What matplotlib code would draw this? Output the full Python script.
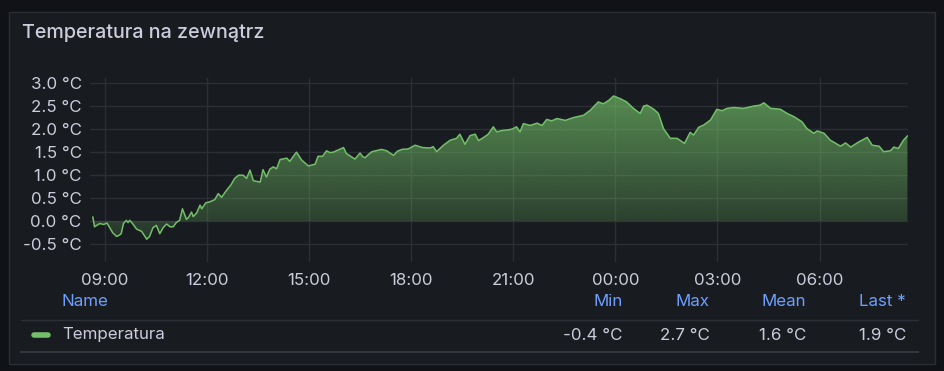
import matplotlib
matplotlib.use("Agg")
import matplotlib.pyplot as plt
import matplotlib.dates as mdates
from matplotlib.patches import Rectangle
from matplotlib.lines import Line2D
from matplotlib.ticker import FuncFormatter
import numpy as np
from datetime import datetime, timedelta

title = "Temperatura na zewnątrz"
series_name = "Temperatura"

times = [
  "08:39", "08:42", "08:47", "08:51", "08:58", "09:04", "09:14", "09:21", "09:26", "09:29",
  "09:33", "09:38", "09:41", "09:44", "09:49", "09:56", "10:05", "10:14", "10:19", "10:25",
  "10:31", "10:37", "10:43", "10:49", "10:55", "11:01", "11:06", "11:12", "11:17", "11:24",
  "11:28", "11:33", "11:36", "11:42", "11:48", "11:51", "11:58", "12:05", "12:14", "12:20",
  "12:26", "12:34", "12:43", "12:49", "12:56", "13:04", "13:10", "13:16", "13:22", "13:34",
  "13:39", "13:45", "13:51", "13:57", "14:03", "14:09", "14:21", "14:26", "14:38", "14:47",
  "14:59", "15:11", "15:16", "15:24", "15:31", "15:37", "15:43", "16:01", "16:06", "16:21",
  "16:30", "16:35", "16:39", "16:45", "16:51", "17:08", "17:17", "17:29", "17:36", "17:44",
  "17:55", "18:07", "18:20", "18:34", "18:39", "18:45", "18:57", "19:09", "19:20", "19:26",
  "19:35", "19:44", "19:53", "19:59", "20:08", "20:16", "20:25", "20:31", "20:40", "20:49",
  "20:58", "21:06", "21:12", "21:18", "21:30", "21:42", "21:51", "21:59", "22:08", "22:17",
  "22:32", "22:46", "23:04", "23:16", "23:30", "23:39", "23:48", "23:57", "00:09", "00:20",
  "00:32", "00:44", "00:50", "00:56", "01:08", "01:16", "01:25", "01:37", "01:49", "02:02",
  "02:12", "02:18", "02:27", "02:36", "02:48", "02:59", "03:08", "03:17", "03:29", "03:46",
  "04:04", "04:15", "04:22", "04:34", "04:45", "04:51", "05:03", "05:15", "05:29", "05:38",
  "05:50", "05:56", "06:08", "06:19", "06:37", "06:46", "06:55", "07:09", "07:24", "07:33",
  "07:45", "07:53", "08:05", "08:11", "08:19", "08:28", "08:35",
]
temps = [
  0.09, -0.12, -0.08, -0.05, -0.07, -0.04, -0.25, -0.33, -0.30, -0.27,
  -0.05, 0.02, -0.03, 0.02, -0.05, -0.17, -0.22, -0.39, -0.33, -0.14,
  -0.09, -0.27, -0.14, -0.06, -0.12, -0.12, -0.03, 0.02, 0.27, 0.04,
  0.09, 0.20, 0.10, 0.18, 0.35, 0.27, 0.40, 0.42, 0.47, 0.60,
  0.52, 0.66, 0.80, 0.93, 1.00, 1.00, 0.93, 1.11, 0.88, 0.85,
  1.12, 0.96, 1.13, 1.18, 1.14, 1.34, 1.37, 1.30, 1.50, 1.33,
  1.20, 1.24, 1.41, 1.41, 1.53, 1.49, 1.50, 1.60, 1.47, 1.35,
  1.48, 1.40, 1.38, 1.45, 1.51, 1.56, 1.53, 1.43, 1.52, 1.56,
  1.57, 1.65, 1.60, 1.59, 1.62, 1.51, 1.65, 1.76, 1.80, 1.89,
  1.67, 1.86, 1.89, 1.75, 1.82, 1.89, 2.05, 1.94, 1.97, 1.98,
  2.00, 2.05, 1.94, 2.12, 2.08, 2.13, 2.08, 2.21, 2.18, 2.23,
  2.19, 2.25, 2.30, 2.41, 2.59, 2.55, 2.62, 2.72, 2.66, 2.59,
  2.45, 2.34, 2.50, 2.52, 2.43, 2.34, 2.01, 1.80, 1.80, 1.69,
  1.93, 1.87, 2.04, 2.09, 2.20, 2.43, 2.40, 2.45, 2.47, 2.45,
  2.50, 2.52, 2.57, 2.45, 2.44, 2.43, 2.34, 2.27, 2.16, 2.01,
  1.91, 1.96, 1.91, 1.76, 1.63, 1.70, 1.61, 1.72, 1.82, 1.65,
  1.63, 1.51, 1.53, 1.61, 1.58, 1.76, 1.85,
]

x_ticks = ["09:00", "12:00", "15:00", "18:00", "21:00", "00:00", "03:00", "06:00"]
y_ticks = [-0.5, 0.0, 0.5, 1.0, 1.5, 2.0, 2.5, 3.0]

stat_names = ["Min", "Max", "Mean", "Last *"]
stat_values = [-0.4, 2.7, 1.6, 1.9]

W, H = 945, 371
GREEN = "#73bf69"
TEXT = "#ccccdc"
BLUE = "#6e9fff"
GRID = "#2c2f35"
FS = 12.2

plt.rcParams["font.family"] = ["Inter", "DejaVu Sans"]


def to_dates(labels, start="08:34"):
  # turn HH:MM strings into datetimes, rolling over midnight
  base = datetime(2024, 1, 1)
  out = []
  prev = start
  day = 0
  for s in labels:
    if s < prev:
      day += 1
    prev = s
    hh, mm = map(int, s.split(":"))
    out.append(base + timedelta(days=day, hours=hh, minutes=mm))
  return out


def fx(x):
  return x / W


def fy(y):
  return 1 - y / H


fig = plt.figure(figsize=(W / 100, H / 100), dpi=100)
fig.patch.set_facecolor("#111217")

# panel (behind the axes)
fig.patches.append(Rectangle((fx(9.5), fy(364)), fx(935) - fx(9.5), fy(11.5) - fy(364),
                             transform=fig.transFigure, facecolor="#181b1f",
                             edgecolor="#2b2e34", linewidth=1, zorder=-5))

fig.text(fx(22), fy(33), title, color=TEXT, fontsize=14.2, fontweight="medium",
         ha="left", va="center")

ax = fig.add_axes([fx(90), fy(262), fx(908) - fx(90), fy(78) - fy(262)])
ax.set_facecolor("none")
ax.set_zorder(2)

t = to_dates(times)
ax.plot(t, temps, color=GREEN, linewidth=1.1, zorder=3)

# gradient fill down to zero
poly = ax.fill_between(t, temps, 0, facecolor="none", edgecolor="none")
ymin, ymax = -0.885, 3.11
x0, x1 = datetime(2024, 1, 1, 8, 34), datetime(2024, 1, 2, 8, 36)
grad = np.zeros((256, 1, 4))
grad[:, 0, 0] = 115 / 255
grad[:, 0, 1] = 191 / 255
grad[:, 0, 2] = 105 / 255
grad[:, 0, 3] = np.linspace(0.75, 0.08, 256)
im = ax.imshow(grad, aspect="auto", origin="upper",
               extent=[mdates.date2num(x0), mdates.date2num(x1), ymin, ymax], zorder=2)
im.set_clip_path(poly.get_paths()[0], transform=ax.transData)

ax.set_xlim(x0, x1)
ax.set_ylim(ymin, ymax)

ax.set_xticks(to_dates(x_ticks))
ax.xaxis.set_major_formatter(mdates.DateFormatter("%H:%M"))
ax.set_yticks(y_ticks)
ax.yaxis.set_major_formatter(FuncFormatter(lambda v, p: f"{v:.1f} °C"))
ax.grid(True, color=GRID, linewidth=1)
ax.set_axisbelow(True)
for s in ax.spines.values():
  s.set_visible(False)
ax.tick_params(axis="both", length=0, colors=TEXT, labelsize=FS)
ax.tick_params(axis="x", pad=8)
ax.tick_params(axis="y", pad=6)

# legend table
fig.text(fx(62), fy(301), "Name", color=BLUE, fontsize=FS, ha="left", va="center")
stat_right = [623, 710, 806, 906]
for name, val, xr in zip(stat_names, stat_values, stat_right):
  fig.text(fx(xr), fy(301), name, color=BLUE, fontsize=FS, ha="right", va="center")
  fig.text(fx(xr), fy(335), f"{val:.1f} °C", color=TEXT, fontsize=FS, ha="right", va="center")

fig.lines.append(Line2D([fx(21), fx(918)], [fy(319.5), fy(319.5)], transform=fig.transFigure,
                        color=GRID, linewidth=1))
fig.lines.append(Line2D([fx(21), fx(918)], [fy(351.5), fy(351.5)], transform=fig.transFigure,
                        color="#33363c", linewidth=1.5))
fig.lines.append(Line2D([fx(34), fx(48)], [fy(335), fy(335)], transform=fig.transFigure,
                        color=GREEN, linewidth=4, solid_capstyle="round"))
fig.text(fx(62), fy(335), series_name, color=TEXT, fontsize=FS, ha="left", va="center")

fig.savefig("out.png", dpi=100, facecolor=fig.get_facecolor())
